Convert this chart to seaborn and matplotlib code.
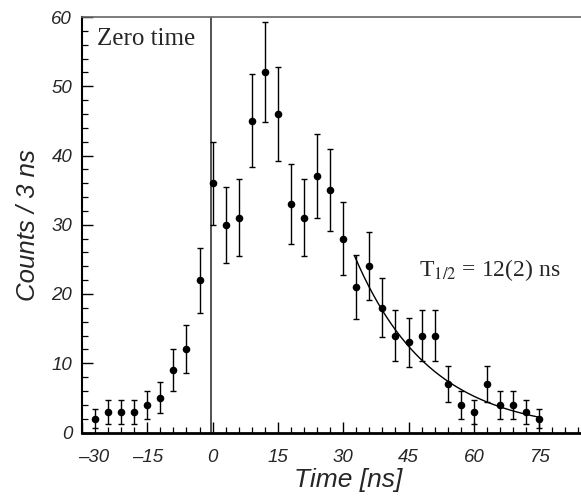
import numpy as np
import pandas as pd
import matplotlib
matplotlib.use("Agg")
import matplotlib.pyplot as plt
import matplotlib.transforms as mtransforms
import seaborn as sns
from matplotlib.ticker import MultipleLocator

# time bins (ns) and counts per 3 ns bin
time_ns = [-27, -24, -21, -18, -15, -12, -9, -6, -3,
           0, 3, 6, 9, 12, 15, 18, 21, 24, 27, 30,
           33, 36, 39, 42, 45, 48, 51, 54, 57, 60, 63, 66, 69, 72, 75]
counts = [2, 3, 3, 3, 4, 5, 9, 12, 22,
          36, 30, 31, 45, 52, 46, 33, 31, 37, 35, 28,
          21, 24, 18, 14, 13, 14, 14, 7, 4, 3, 7, 4, 4, 3, 2]

# fitted decay (half-life from the fit)
fit_t0 = 32.6
fit_amp = 25.5
half_life = 12.0
fit_end = 75.0

x_ticks = [-30, -15, 0, 15, 30, 45, 60, 75]
y_ticks = [0, 10, 20, 30, 40, 50, 60]

df = pd.DataFrame({"time": time_ns, "counts": counts})
df["err"] = np.sqrt(df["counts"])

t_fit = np.linspace(fit_t0, fit_end, 200)
fit_df = pd.DataFrame({"time": t_fit,
                       "counts": fit_amp * 2 ** (-(t_fit - fit_t0) / half_life)})

sns.set_style("white")
plt.rcParams["font.family"] = ["Liberation Sans", "DejaVu Sans"]

fig = plt.figure(figsize=(5.81, 5.00), dpi=100)
ax = fig.add_axes([0.141, 0.135, 0.859, 0.831])

ax.errorbar(df["time"], df["counts"], yerr=df["err"], fmt="none",
            ecolor="black", elinewidth=1.0, capsize=2, capthick=1.0, zorder=2)
sns.scatterplot(data=df, x="time", y="counts", ax=ax, color="black",
                s=30, edgecolor="black", linewidth=0, zorder=3)
sns.lineplot(data=fit_df, x="time", y="counts", ax=ax, color="black",
             linewidth=1.0, zorder=4)

ax.axvline(-0.4, color="#444444", linewidth=1.3, zorder=1)

ax.set_xlim(-30, 84.6)
ax.set_ylim(0, 60)
ax.set_xticks(x_ticks)
ax.set_yticks(y_ticks)
ax.set_xticklabels([str(v).replace("-", "\u2013") for v in x_ticks])
ax.xaxis.set_minor_locator(MultipleLocator(3))
ax.yaxis.set_minor_locator(MultipleLocator(2))
ax.tick_params(which="major", direction="in", length=8, width=1.0,
               labelsize=13.5, color="black")
ax.tick_params(axis="x", which="major", pad=12)
ax.tick_params(axis="y", which="major", pad=7)
ax.tick_params(which="minor", direction="in", length=4.5, width=0.9,
               color="black")
ax.tick_params(axis="x", top=False, bottom=True, which="both")
ax.tick_params(axis="y", left=True, right=False, which="both")
for lab in ax.get_xticklabels() + ax.get_yticklabels():
    lab.set_fontstyle("italic")

# first x label sits a bit to the right, clear of the corner
first = ax.get_xticklabels()[0]
first.set_transform(first.get_transform() +
                    mtransforms.ScaledTranslation(12 / 100, 0, fig.dpi_scale_trans))

ax.spines["right"].set_visible(False)
ax.spines["top"].set_color("#666666")
ax.spines["top"].set_linewidth(1.2)
ax.spines["left"].set_color("black")
ax.spines["left"].set_linewidth(1.5)
ax.spines["bottom"].set_color("black")
ax.spines["bottom"].set_linewidth(2.0)

ax.set_xlabel("Time [ns]", fontsize=19, fontstyle="italic", labelpad=6)
ax.xaxis.set_label_coords(0.533, -0.085)
ax.set_ylabel("Counts / 3 ns", fontsize=18.5, fontstyle="italic", labelpad=8)

ax.text(-26.5, 56.8, "Zero time", fontsize=18, family="Liberation Serif",
        ha="left", va="center")
ax.text(47.5, 23.5, r"T$_{1/2}$ = 12(2) ns", fontsize=17,
        family="Liberation Serif", ha="left", va="center",
        math_fontfamily="stix")

fig.savefig("out.png", dpi=100)
